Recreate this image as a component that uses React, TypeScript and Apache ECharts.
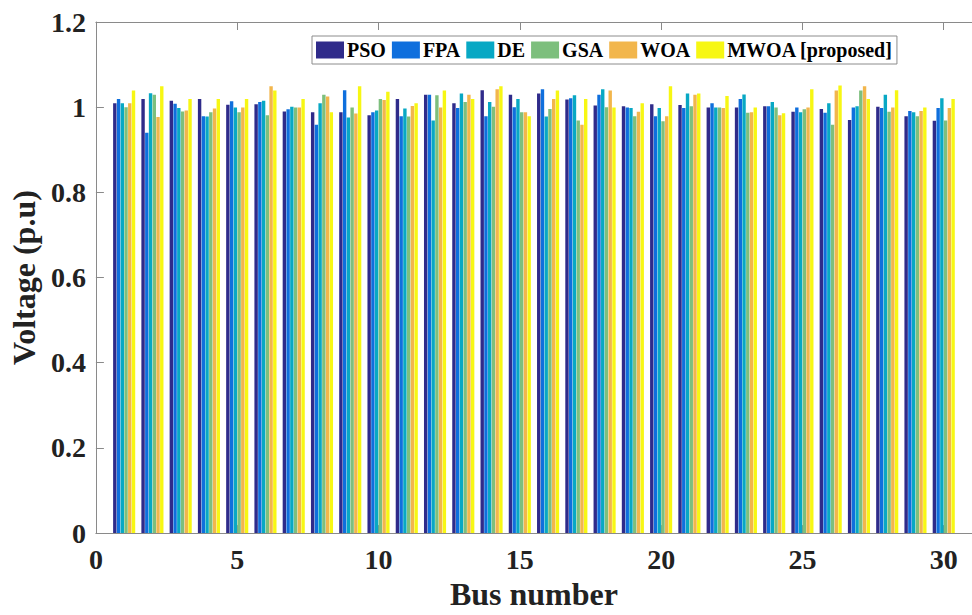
import React, { useEffect, useRef } from "react";
import * as echarts from "echarts";

const BUSES = [1, 2, 3, 4, 5, 6, 7, 8, 9, 10, 11, 12, 13, 14, 15, 16, 17, 18, 19, 20, 21, 22, 23, 24, 25, 26, 27, 28, 29, 30];
const SERIES_NAMES = ["PSO", "FPA", "DE", "GSA", "WOA", "MWOA [proposed]"];
const COLORS = ["#2f2b8a", "#0f6fdd", "#08a8c4", "#7dbf7d", "#f2b64c", "#f7f713"];

const PSO = [1.009, 1.019, 1.015, 1.019, 1.006, 1.007, 0.99, 0.988, 0.988, 0.981, 1.019, 1.029, 1.009, 1.04, 1.029, 1.032, 1.018, 1.004, 1.002, 1.007, 1.005, 0.999, 0.999, 1.002, 0.989, 0.996, 0.97, 1.001, 0.979, 0.968];
const FPA = [1.019, 0.94, 1.008, 0.979, 1.014, 1.012, 0.995, 0.959, 1.04, 0.988, 0.979, 1.029, 0.998, 0.979, 1.0, 1.042, 1.021, 1.029, 0.999, 0.979, 0.998, 1.009, 1.019, 1.002, 0.999, 0.987, 0.999, 0.998, 0.991, 0.998];
const DE = [1.009, 1.033, 0.998, 0.978, 0.999, 1.015, 1.001, 1.009, 0.976, 0.992, 0.997, 0.969, 1.032, 1.012, 1.019, 0.978, 1.028, 1.042, 0.998, 0.998, 1.032, 0.999, 1.03, 1.012, 0.988, 1.009, 1.002, 1.029, 0.988, 1.021];
const GSA = [1.0, 1.029, 0.99, 0.988, 0.988, 0.981, 0.999, 1.029, 0.999, 1.019, 0.978, 1.028, 1.012, 1.001, 0.988, 0.996, 0.969, 1.0, 0.979, 0.967, 1.002, 0.999, 0.987, 0.999, 0.995, 0.959, 1.039, 0.989, 0.979, 0.969];
const WOA = [1.009, 0.977, 0.992, 0.997, 0.999, 1.049, 0.999, 1.025, 0.985, 1.017, 1.003, 0.999, 1.029, 1.042, 0.988, 1.019, 0.959, 1.039, 0.989, 0.979, 1.029, 0.998, 0.988, 0.981, 0.999, 1.039, 1.049, 0.999, 0.991, 0.998];
const MWOA = [1.039, 1.049, 1.019, 1.019, 1.019, 1.039, 1.019, 0.988, 1.049, 1.036, 1.009, 1.039, 1.019, 1.049, 0.979, 1.039, 1.019, 0.999, 1.009, 1.049, 1.032, 1.026, 0.999, 0.986, 1.042, 1.051, 1.019, 1.04, 0.999, 1.019];

const X_MIN = 0;
const X_MAX = 31;
const X_TICK_STEP = 5;
const Y_MIN = 0;
const Y_MAX = 1.2;
const Y_TICK_STEP = 0.2;

const FONT = "'Liberation Serif', 'Times New Roman', serif";
const AXIS_COLOR = "#8a8a8a";
const TEXT_COLOR = "#222222";

export default function App() {
  const ref = useRef<HTMLDivElement>(null);

  useEffect(() => {
    if (!ref.current) return;
    const chart = echarts.init(ref.current, undefined, { renderer: "svg" });

    const cats: string[] = [String(X_MIN), ...BUSES.map(String), String(X_MAX)];
    const pad = (arr: number[]) => [null, ...arr, null];
    const allData = [PSO, FPA, DE, GSA, WOA, MWOA];
    const showIdx = (i: number) => {
      const v = Number(cats[i]);
      return v % X_TICK_STEP === 0 && v <= 30;
    };

    const xCommon = {
      type: "category" as const,
      data: cats,
      boundaryGap: false,
      axisLine: { show: true, lineStyle: { color: AXIS_COLOR, width: 1 } },
      axisTick: { show: true, inside: true, length: 8, interval: (i: number) => showIdx(i), lineStyle: { color: AXIS_COLOR } },
      splitLine: { show: false },
    };

    chart.setOption({
      animation: false,
      backgroundColor: "#ffffff",
      grid: { left: 93, right: 0, top: 22, bottom: 75, containLabel: false },
      legend: {
        left: 312,
        top: 36,
        orient: "horizontal",
        itemWidth: 28,
        itemHeight: 17,
        itemGap: 6,
        padding: [4, 4, 4, 4],
        borderColor: "#8c8c8c",
        borderWidth: 1,
        backgroundColor: "#ffffff",
        icon: "rect",
        textStyle: { fontFamily: FONT, fontWeight: "bold", fontSize: 20, color: "#000", padding: [0, 0, 0, -2] },
        data: SERIES_NAMES,
      },
      xAxis: [
        {
          ...xCommon,
          position: "bottom",
          name: "Bus number",
          nameLocation: "middle",
          nameGap: 44,
          nameTextStyle: { fontFamily: FONT, fontWeight: "bold", fontSize: 32, color: TEXT_COLOR },
          axisLabel: {
            show: true,
            interval: (i: number) => showIdx(i),
            margin: 12,
            fontFamily: FONT,
            fontWeight: "bold",
            fontSize: 28,
            color: TEXT_COLOR,
          },
        },
        {
          ...xCommon,
          position: "top",
          axisLabel: { show: false },
        },
      ],
      yAxis: {
        type: "value",
        min: Y_MIN,
        max: Y_MAX,
        interval: Y_TICK_STEP,
        name: "Voltage (p.u)",
        nameLocation: "middle",
        nameGap: 50,
        nameTextStyle: { fontFamily: FONT, fontWeight: "bold", fontSize: 32, color: TEXT_COLOR },
        axisLine: { show: true, lineStyle: { color: AXIS_COLOR, width: 1 } },
        axisTick: { show: true, inside: true, length: 8, lineStyle: { color: AXIS_COLOR } },
        splitLine: { show: false },
        axisLabel: {
          margin: 10,
          fontFamily: FONT,
          fontWeight: "bold",
          fontSize: 28,
          color: TEXT_COLOR,
          formatter: (v: number) => String(Math.round(v * 10) / 10),
        },
      },
      series: SERIES_NAMES.map((name, k) => ({
        name,
        type: "bar",
        xAxisIndex: 0,
        data: pad(allData[k]),
        barWidth: 3.4,
        barGap: "10%",
        itemStyle: { color: COLORS[k] },
        emphasis: { disabled: true },
      })),
    });

    return () => chart.dispose();
  }, []);

  return <div ref={ref} style={{ position: "fixed", left: 0, top: 0, width: 972, height: 615 }} />;
}
